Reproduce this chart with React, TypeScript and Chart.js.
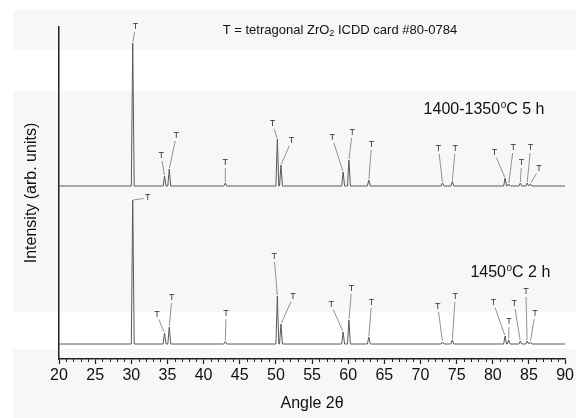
import React, { useEffect, useRef } from 'react';
import { Chart, registerables } from 'chart.js';
Chart.register(...registerables);

// Peak positions (2θ, degrees) indexed to tetragonal ZrO2
const peakAngles = [30.2, 34.6, 35.25, 43.0, 50.2, 50.7, 59.3, 60.1, 62.85, 73.05, 74.4, 81.7, 82.2, 83.8, 84.75, 85.2];
// Peak heights above baseline (arb. units)
const topIntensity = [143, 10, 17, 3, 47, 21, 14, 26, 6, 3, 4.5, 8, 2, 3, 3, 2];
const bottomIntensity = [144, 11, 17, 2.5, 48, 20, 12, 24, 7, 2, 4, 8, 4, 3, 3, 2];
// Vertical offsets of the stacked patterns
const topOffset = 158;
const bottomOffset = 0;
const angleMin = 20;
const angleMax = 90;
const xTickStep = 5;

const topLabel = '1400-1350';
const topLabelRest = 'C 5 h';
const bottomLabel = '1450';
const bottomLabelRest = 'C 2 h';
const legendText = ['T = tetragonal ZrO', '2', ' ICDD card #80-0784'];
const peakMark = 'T';

// Annotation anchors for the "T" marks (angle, height above baseline)
const topMarkAngles = [30.57, 34.15, 36.22, 43.01, 49.53, 52.15, 57.8, 60.55, 63.23, 72.5, 74.8, 80.22, 82.84, 83.98, 85.22, 86.38];
const topMarkHeights = [159, 30, 50, 23, 62, 45, 48, 53, 41, 37, 37, 33, 38, 23, 38, 17];
const bottomMarkAngles = [32.26, 33.55, 35.61, 43.1, 49.76, 52.38, 57.66, 60.47, 63.23, 72.4, 74.8, 80.08, 82.24, 82.97, 84.58, 85.83];
const bottomMarkHeights = [146, 29, 46, 30, 87, 47, 39, 55, 41, 37, 47, 41, 22, 40, 52, 30];

const FONT = '"Liberation Sans", Arial, Helvetica, sans-serif';
const HALF = 0.2;

function buildPattern(heights: number[], offset: number) {
  const pts: { x: number; y: number }[] = [{ x: angleMin, y: offset }];
  peakAngles.forEach((a, i) => {
    pts.push({ x: a - HALF, y: offset });
    pts.push({ x: a, y: offset + heights[i] });
    pts.push({ x: a + HALF, y: offset });
  });
  pts.push({ x: angleMax, y: offset });
  pts.sort((p, q) => p.x - q.x);
  return pts;
}

const bgPlugin = {
  id: 'bgBands',
  beforeDraw(chart: any) {
    const ctx = chart.ctx;
    ctx.save();
    ctx.fillStyle = '#ffffff';
    ctx.fillRect(0, 0, chart.width, chart.height);
    ctx.fillStyle = '#f7f7f7';
    const bands = [[10, 50], [91, 312], [349, 418]];
    bands.forEach(([a, b]) => ctx.fillRect(13, a, chart.width - 13, b - a));
    ctx.restore();
  },
};

const annPlugin = {
  id: 'annotations',
  afterDraw(chart: any) {
    const ctx = chart.ctx;
    const xs = chart.scales.x;
    const ys = chart.scales.y;
    const area = chart.chartArea;
    ctx.save();
    // minor ticks
    ctx.strokeStyle = '#222';
    ctx.lineWidth = 1;
    for (let a = angleMin; a <= angleMax; a += 1) {
      if (a % xTickStep === 0) continue;
      const px = Math.round(xs.getPixelForValue(a)) + 0.5;
      ctx.beginPath();
      ctx.moveTo(px, area.bottom);
      ctx.lineTo(px, area.bottom + 3);
      ctx.stroke();
    }
    // peak marks
    const drawMarks = (hs: number[], mAng: number[], mH: number[], offset: number) => {
      peakAngles.forEach((a, i) => {
        const px = xs.getPixelForValue(a);
        const py = ys.getPixelForValue(offset + hs[i]);
        const lx = xs.getPixelForValue(mAng[i]);
        const ly = ys.getPixelForValue(offset + mH[i]);
        const dx = px - lx;
        const dy = py - ly;
        const len = Math.hypot(dx, dy) || 1;
        const horiz = Math.abs(dx) > Math.abs(dy);
        const r = horiz ? 4 : 5;
        ctx.strokeStyle = '#777';
        ctx.lineWidth = 0.8;
        ctx.beginPath();
        ctx.moveTo(lx + (dx / len) * r, ly + (dy / len) * r);
        ctx.lineTo(px - (dx / len) * 1, py - (dy / len) * 1);
        ctx.stroke();
        ctx.fillStyle = '#333';
        ctx.font = `9px ${FONT}`;
        ctx.textAlign = 'center';
        ctx.textBaseline = 'middle';
        ctx.fillText(peakMark, lx, ly);
      });
    };
    drawMarks(topIntensity, topMarkAngles, topMarkHeights, topOffset);
    drawMarks(bottomIntensity, bottomMarkAngles, bottomMarkHeights, bottomOffset);

    // sample labels
    const drawDeg = (main: string, rest: string, x: number, y: number) => {
      ctx.fillStyle = '#111';
      ctx.textAlign = 'left';
      ctx.textBaseline = 'middle';
      ctx.font = `16px ${FONT}`;
      ctx.fillText(main, x, y);
      let w = ctx.measureText(main).width;
      ctx.font = `10px ${FONT}`;
      ctx.fillText('o', x + w + 0.5, y - 5);
      w += ctx.measureText('o').width + 0.5;
      ctx.font = `16px ${FONT}`;
      ctx.fillText(rest, x + w, y);
    };
    drawDeg(topLabel, topLabelRest, xs.getPixelForValue(70.43), ys.getPixelForValue(topOffset + 76));
    drawDeg(bottomLabel, bottomLabelRest, xs.getPixelForValue(76.9), ys.getPixelForValue(bottomOffset + 71));

    // legend text with subscript
    ctx.font = `13px ${FONT}`;
    const w0 = ctx.measureText(legendText[0]).width;
    ctx.font = `9px ${FONT}`;
    const w1 = ctx.measureText(legendText[1]).width;
    ctx.font = `13px ${FONT}`;
    const w2 = ctx.measureText(legendText[2]).width;
    const total = w0 + w1 + w2;
    const cx = xs.getPixelForValue(58.86);
    const cy = ys.getPixelForValue(314);
    let sx = cx - total / 2;
    ctx.fillStyle = '#111';
    ctx.textAlign = 'left';
    ctx.textBaseline = 'middle';
    ctx.fillText(legendText[0], sx, cy);
    sx += w0;
    ctx.font = `9px ${FONT}`;
    ctx.fillText(legendText[1], sx, cy + 4);
    sx += w1;
    ctx.font = `13px ${FONT}`;
    ctx.fillText(legendText[2], sx, cy);
    ctx.restore();
  },
};

export default function App() {
  const ref = useRef<HTMLCanvasElement>(null);
  useEffect(() => {
    if (!ref.current) return;
    const chart = new Chart(ref.current, {
      type: 'scatter',
      data: {
        datasets: [
          {
            data: buildPattern(topIntensity, topOffset),
            showLine: true,
            borderColor: '#5a5a5a',
            borderWidth: 1,
            pointRadius: 0,
            tension: 0,
          },
          {
            data: buildPattern(bottomIntensity, bottomOffset),
            showLine: true,
            borderColor: '#5a5a5a',
            borderWidth: 1,
            pointRadius: 0,
            tension: 0,
          },
        ],
      },
      options: {
        animation: false,
        responsive: false,
        devicePixelRatio: 1,
        layout: { padding: { top: 27, right: 9, left: 0, bottom: 0 } },
        plugins: { legend: { display: false }, tooltip: { enabled: false } },
        scales: {
          x: {
            type: 'linear',
            min: angleMin,
            max: angleMax,
            afterFit: (s: any) => { s.height = 59; },
            border: { display: true, color: '#222', width: 1.5 },
            grid: { display: true, drawOnChartArea: false, drawTicks: true, tickLength: 5, tickColor: '#222', tickWidth: 1.2 },
            ticks: { stepSize: xTickStep, padding: 2, color: '#111', font: { family: FONT, size: 16 }, maxRotation: 0 },
            title: { display: true, text: 'Angle 2θ', color: '#111', font: { family: FONT, size: 16 }, padding: { top: 0, bottom: 5 } },
          },
          y: {
            type: 'linear',
            min: -15,
            max: 317,
            afterFit: (s: any) => { s.width = 59; },
            border: { display: true, color: '#222', width: 1.5 },
            grid: { display: false, drawTicks: false },
            ticks: { display: false },
            title: { display: true, text: 'Intensity (arb. units)', color: '#111', font: { family: FONT, size: 16 }, padding: { top: 22, bottom: 0 } },
          },
        },
      },
      plugins: [bgPlugin, annPlugin],
    });
    return () => chart.destroy();
  }, []);
  return (
    <div style={{ position: 'fixed', left: 0, top: 0, width: 576, height: 418 }}>
      <canvas ref={ref} width={576} height={418} style={{ width: 576, height: 418, display: 'block' }} />
    </div>
  );
}
